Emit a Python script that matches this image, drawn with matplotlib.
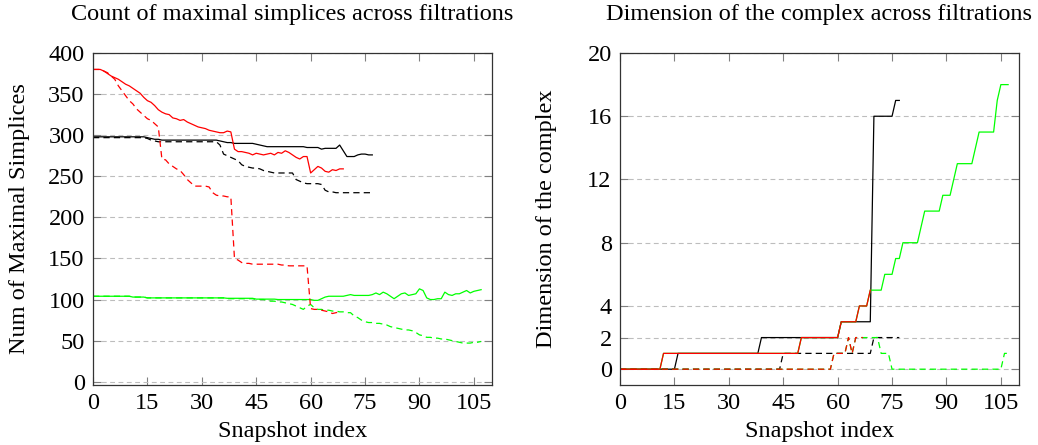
import matplotlib
matplotlib.use('Agg')
import matplotlib.pyplot as plt
import numpy as np

plt.rcParams['font.family'] = ['Liberation Serif', 'DejaVu Serif']
plt.rcParams['lines.scale_dashes'] = False

# ---- data: count of maximal simplices (left) ----
red_solid = [380, 380, 380, 378, 375, 372, 370, 368, 365, 362, 360, 357, 354, 351, 346, 342,
             340, 336, 331, 328, 326, 325, 321, 320, 318, 319, 316, 314, 312, 310, 309, 308,
             306, 305, 304, 303, 303, 305, 304, 283, 280, 280, 279, 278, 276, 278, 277, 276,
             277, 278, 276, 279, 278, 281, 279, 276, 273, 271, 274, 274, 254, 258, 262, 260,
             256, 255, 258, 257, 259, 259]
red_dashed = [380, 380, 380, 378, 376, 372, 368, 360, 354, 348, 342, 338, 332, 328, 324, 320,
              318, 314, 310, 271, 270, 265, 262, 259, 257, 252, 246, 242, 238, 238, 238, 238,
              237, 230, 227, 226, 226, 225, 225, 150, 148, 145, 144, 144, 143, 143, 143, 143,
              143, 143, 143, 143, 142, 142, 141, 141, 141, 141, 141, 141, 89, 88, 88, 87,
              86, 85, 83, 84, 85]
black_solid = [298, 298, 298, 298, 298, 298, 298, 298, 298, 298, 298, 298, 298, 298, 298, 297,
               296, 295, 295, 294, 294, 294, 294, 294, 294, 294, 294, 294, 294, 294, 294, 294,
               294, 294, 294, 293, 292, 291, 291, 290, 290, 290, 290, 290, 290, 289, 288, 287,
               286, 286, 286, 286, 286, 286, 286, 286, 286, 286, 286, 285, 285, 285, 285, 283,
               284, 284, 284, 284, 288, 281, 274, 274, 274, 276, 277, 277, 276, 276]
black_dashed = [297, 297, 297, 297, 297, 297, 297, 297, 297, 297, 297, 297, 297, 297, 297, 296,
                294, 293, 292, 292, 292, 292, 292, 292, 292, 292, 292, 292, 292, 292, 292, 292,
                292, 292, 292, 288, 277, 275, 273, 271, 269, 264, 262, 261, 260, 260, 259, 257,
                256, 255, 254, 254, 254, 254, 254, 254, 246, 244, 242, 241, 241, 241, 241, 240,
                233, 231, 231, 230, 230, 230, 230, 230, 230, 230, 230, 230, 230, 230]
green_solid = [104, 104, 104, 104, 104, 104, 104, 104, 104, 104, 104, 103, 103, 103, 103, 102,
               102, 102, 102, 102, 102, 102, 102, 102, 102, 102, 102, 102, 102, 102, 102, 102,
               102, 102, 102, 102, 102, 101.5, 101.5, 101.5, 101.5, 101.5, 101.5, 101.5, 101.5, 100.5, 100.5, 100.5,
               100.5, 100.5, 100.5, 100, 100, 100, 100, 100, 100, 100, 100, 100, 100, 99, 99, 101,
               103, 104, 104, 104, 104, 104, 105, 106, 105, 105, 105, 105, 105, 106, 108, 106,
               109, 107, 104, 101, 104, 107, 108, 105, 106, 107, 113, 111, 102, 100, 100, 101,
               101, 109, 106, 105, 107, 107, 109, 111, 108, 110, 111, 112]
green_dashed = [104, 104, 104, 104, 104, 104, 104, 104, 104, 104, 104, 103, 103, 103, 103, 102,
                102, 102, 102, 102, 102, 102, 102, 102, 102, 102, 102, 102, 102, 102, 102, 102,
                102, 102, 102, 102, 102, 101, 101, 101, 101, 101, 101, 101, 101, 100, 100, 100,
                99, 98, 98, 97, 97, 96, 95, 94, 92, 90, 88, 92, 94, 90, 88, 88,
                87, 87, 86, 86, 85, 85, 84, 84, 80, 78, 75, 73, 72, 72, 71, 71,
                70, 69, 67, 66, 65, 64, 63, 63, 62, 60, 57, 56, 54, 54, 53, 53,
                52, 52, 51, 50, 49, 48, 47, 47, 47, 48, 48, 49]

# ---- data: dimension of the complex (right) ----
dim_black_solid = [0] * 16 + [1] * 23 + [2] * 22 + [3] * 9 + [16] * 6 + [17] * 2
dim_black_dashed = [0] * 45 + [1] * 25 + [2] * 8
dim_red_solid = [0] * 12 + [1] * 38 + [2] * 11 + [3] * 5 + [4] * 3 + [5]
dim_red_dashed = [0] * 59 + [1] * 4 + [2, 1, 2, 2, 2]
dim_green_solid = ([0] * 12 + [1] * 38 + [2] * 11 + [3] * 5 + [4] * 3 + [5] * 4 + [6] * 3
                   + [7] * 2 + [8] * 5 + [9] + [10] * 5 + [11] * 3 + [12] + [13] * 5 + [14]
                   + [15] * 5 + [17, 18, 18, 18])
dim_green_dashed = [0] * 59 + [1] * 4 + [2, 1, 2, 2, 2, 2, 2, 2, 2] + [1] * 3 + [0] * 31 + [1, 1]

left_series = [(black_solid, 'black', '-'), (black_dashed, 'black', '--'),
               (green_solid, '#00ff00', '-'), (green_dashed, '#00ff00', '--'),
               (red_solid, 'red', '-'), (red_dashed, 'red', '--')]
right_series = [(dim_black_solid, 'black', '-'), (dim_black_dashed, 'black', '--'),
                (dim_green_solid, '#00ff00', '-'), (dim_green_dashed, '#00ff00', '--'),
                (dim_red_solid, 'red', '-'), (dim_red_dashed, 'red', '--')]

W, H = 1038, 445
fig = plt.figure(figsize=(W / 100, H / 100), dpi=100)
ax1 = fig.add_axes([93 / W, (H - 385) / H, 399 / W, 332 / H])
ax2 = fig.add_axes([620 / W, (H - 385) / H, 399 / W, 332 / H])

FS = 17.5


def style(ax, series, yticks, ylim, title, ylabel):
    for vals, col, ls in series:
        x = np.arange(len(vals))
        if ls == '--':
            ax.plot(x, vals, color=col, lw=0.9, dashes=(4.5, 3))
        else:
            ax.plot(x, vals, color=col, lw=0.9)
    ax.set_xlim(0, 110)
    ax.set_ylim(*ylim)
    ax.set_xticks([0, 15, 30, 45, 60, 75, 90, 105])
    ax.set_yticks(yticks)
    ax.yaxis.grid(True, color='#bdbdbd', lw=0.8, dashes=(3.5, 2.5))
    ax.set_axisbelow(True)
    ax.tick_params(direction='in', length=6, width=0.8, color='#808080',
                   top=True, right=True, labelsize=FS, pad=6)
    for sp in ax.spines.values():
        sp.set_color('#333333')
        sp.set_linewidth(0.9)
    ax.text(0.5, 1 + 33 / 332, title, transform=ax.transAxes, ha='center',
            va='baseline', fontsize=FS)
    ax.text(0.5, -52 / 332, 'Snapshot index', transform=ax.transAxes, ha='center',
            va='baseline', fontsize=FS)
    ax.set_ylabel(ylabel, fontsize=FS)
    ax.yaxis.set_label_coords(-0.158, 0.5)


style(ax1, left_series, [0, 50, 100, 150, 200, 250, 300, 350, 400], (-4, 400),
      'Count of maximal simplices across filtrations', 'Num of Maximal Simplices')
style(ax2, right_series, [0, 2, 4, 8, 12, 16, 20], (-1, 20),
      'Dimension of the complex across filtrations', 'Dimension of the complex')

fig.savefig('out.png', dpi=100)
